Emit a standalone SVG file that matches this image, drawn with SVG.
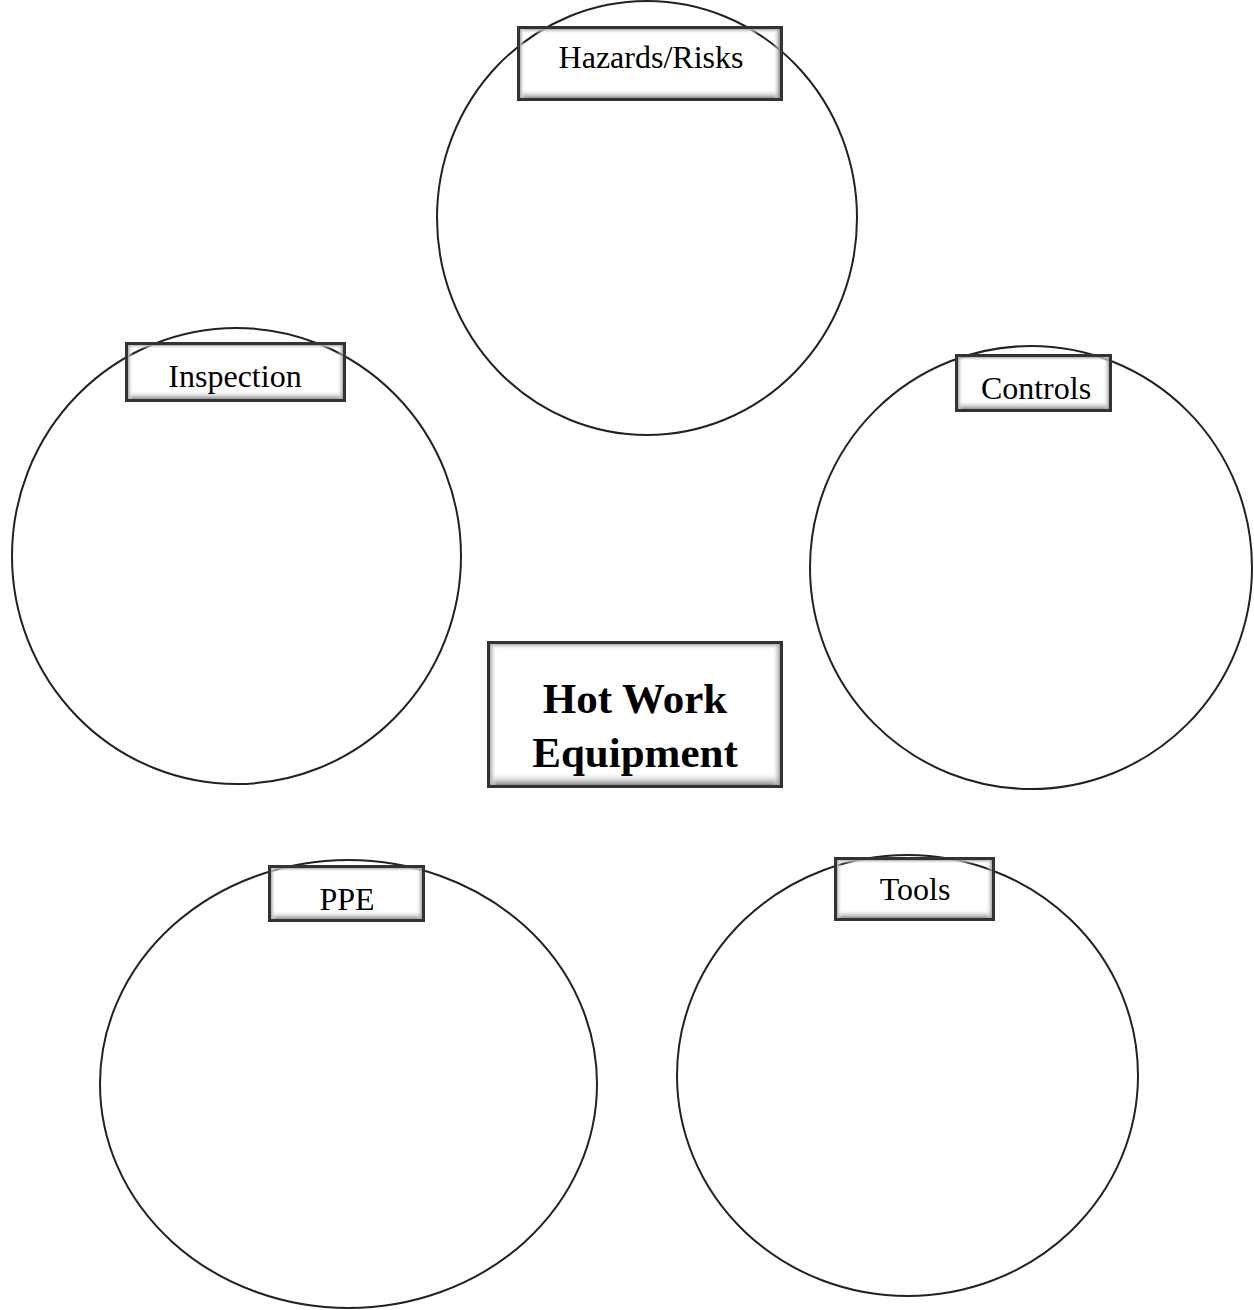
<svg xmlns="http://www.w3.org/2000/svg" width="1254" height="1310" viewBox="0 0 1254 1310">
<defs>
<style>
.c{fill:none;stroke:#222;stroke-width:2}
.b{fill:none;stroke:#333;stroke-width:3}
.t{font-family:"Liberation Serif",serif;font-size:32px;fill:#000;text-anchor:middle}
.h{font-family:"Liberation Serif",serif;font-size:43px;font-weight:bold;fill:#000;text-anchor:middle}
</style>
<linearGradient id="gb" x1="0" y1="0" x2="0" y2="1"><stop offset="0" stop-color="#fff" stop-opacity="0"/><stop offset="1" stop-color="#777"/></linearGradient>
<linearGradient id="gt" x1="0" y1="0" x2="0" y2="1"><stop offset="0" stop-color="#aaa"/><stop offset="1" stop-color="#fff" stop-opacity="0"/></linearGradient>
<linearGradient id="gr" x1="0" y1="0" x2="1" y2="0"><stop offset="0" stop-color="#fff" stop-opacity="0"/><stop offset="1" stop-color="#888"/></linearGradient>
<linearGradient id="gl" x1="0" y1="0" x2="1" y2="0"><stop offset="0" stop-color="#aaa"/><stop offset="1" stop-color="#fff" stop-opacity="0"/></linearGradient>
</defs>
<g id="connectors"></g>
<g id="circles">
<ellipse class="c" cx="647" cy="218" rx="210" ry="217"/>
<ellipse class="c" cx="236.5" cy="556" rx="224.5" ry="228"/>
<ellipse class="c" cx="1031" cy="567.5" rx="221" ry="221.5"/>
<ellipse class="c" cx="348.5" cy="1084" rx="248.5" ry="224"/>
<ellipse class="c" cx="907.5" cy="1075.5" rx="230.5" ry="220.5"/>
</g>
<g id="hazards">
<rect x="520" y="29" width="260" height="5" fill="url(#gt)"/><rect x="520" y="89" width="260" height="10" fill="url(#gb)"/><rect x="520" y="29" width="5" height="70" fill="url(#gl)"/><rect x="773" y="29" width="7" height="70" fill="url(#gr)"/>
<rect class="b" x="518.5" y="27.5" width="263" height="72"/>
<text class="t" x="651" y="68">Hazards/Risks</text>
</g>
<g id="inspection">
<rect x="128" y="345" width="216" height="4" fill="url(#gt)"/><rect x="128" y="390" width="216" height="10" fill="url(#gb)"/><rect x="128" y="345" width="5" height="55" fill="url(#gl)"/><rect x="337" y="345" width="7" height="55" fill="url(#gr)"/>
<rect class="b" x="126.5" y="343.5" width="218" height="57"/>
<text class="t" x="235" y="387">Inspection</text>
</g>
<g id="controls">
<rect x="958" y="357" width="152" height="4" fill="url(#gt)"/><rect x="958" y="400" width="152" height="10" fill="url(#gb)"/><rect x="958" y="357" width="5" height="53" fill="url(#gl)"/><rect x="1103" y="357" width="7" height="53" fill="url(#gr)"/>
<rect class="b" x="956.5" y="355.5" width="154" height="55"/>
<text class="t" x="1036" y="399">Controls</text>
</g>
<g id="center">
<rect x="490" y="644" width="291" height="6" fill="url(#gt)"/><rect x="490" y="772" width="291" height="14" fill="url(#gb)"/><rect x="490" y="644" width="7" height="142" fill="url(#gl)"/><rect x="772" y="644" width="9" height="142" fill="url(#gr)"/>
<rect class="b" x="488.5" y="642.5" width="293" height="144"/>
<text class="h" x="635" y="713">Hot Work</text>
<text class="h" x="635" y="767">Equipment</text>
</g>
<g id="ppe">
<rect x="271" y="868" width="152" height="4" fill="url(#gt)"/><rect x="271" y="910" width="152" height="10" fill="url(#gb)"/><rect x="271" y="868" width="5" height="52" fill="url(#gl)"/><rect x="416" y="868" width="7" height="52" fill="url(#gr)"/>
<rect class="b" x="269.5" y="866.5" width="154" height="54"/>
<text class="t" x="347" y="910">PPE</text>
</g>
<g id="tools">
<rect x="837" y="860" width="156" height="4" fill="url(#gt)"/><rect x="837" y="909" width="156" height="10" fill="url(#gb)"/><rect x="837" y="860" width="5" height="59" fill="url(#gl)"/><rect x="986" y="860" width="7" height="59" fill="url(#gr)"/>
<rect class="b" x="835.5" y="858.5" width="158" height="61"/>
<text class="t" x="915" y="900">Tools</text>
</g>
</svg>
